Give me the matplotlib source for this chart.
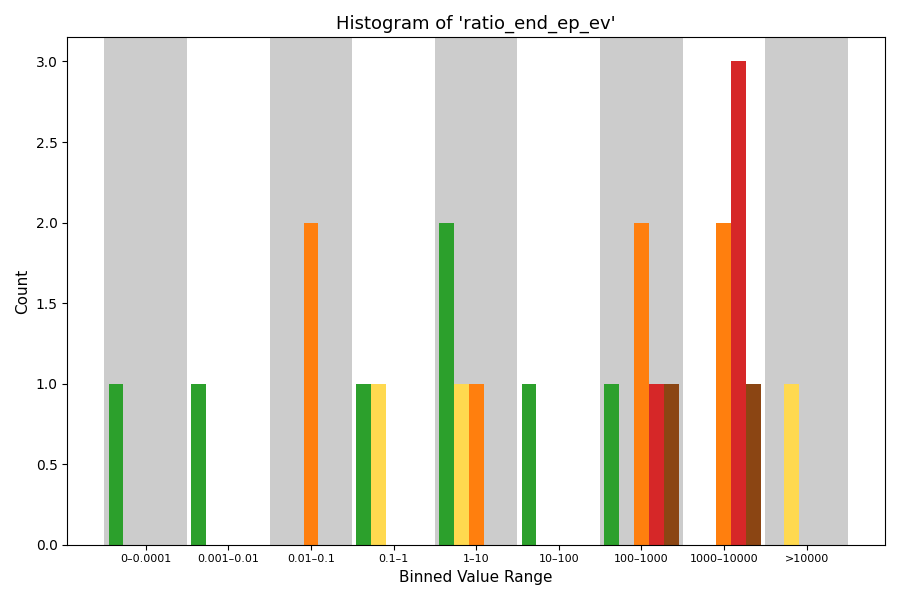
import numpy as np
import matplotlib
matplotlib.use("Agg")
import matplotlib.pyplot as plt

# ── data ──────────────────────────────────────────────────────────────────────
bins = ["0–0.0001", "0.001–0.01", "0.01–0.1", "0.1–1", "1–10",
        "10–100", "100–1000", "1000–10000", ">10000"]

green  = [1, 1, 0, 1, 2, 1, 1, 0, 0]
yellow = [0, 0, 0, 1, 1, 0, 0, 0, 1]
orange = [0, 0, 2, 0, 1, 0, 2, 2, 0]
red    = [0, 0, 0, 0, 0, 0, 1, 3, 0]
brown  = [0, 0, 0, 0, 0, 0, 1, 1, 0]

series = [green, yellow, orange, red, brown]
colors = ["#2ca02c", "#ffd94f", "#ff7f0e", "#d62728", "#8b4513"]

# ── plot ──────────────────────────────────────────────────────────────────────
fig, ax = plt.subplots(figsize=(9, 6), dpi=100)
x = np.arange(len(bins))
n = len(series)
width = 0.9 / n

for i in range(len(bins)):
    if i % 2 == 0:
        ax.axvspan(i - 0.5, i + 0.5, color="#cccccc", zorder=0, lw=0)

for k, (vals, c) in enumerate(zip(series, colors)):
    ax.bar(x + (k - (n - 1) / 2) * width, vals, width=width, color=c, zorder=2)

ax.set_xticks(x)
ax.set_xticklabels(bins, fontsize=8)
ax.set_xlabel("Binned Value Range", fontsize=11)
ax.set_ylabel("Count", fontsize=11)
ax.set_title("Histogram of 'ratio_end_ep_ev'", fontsize=13)
ax.set_ylim(0, 3.15)
ax.set_xlim(-0.95, 8.95)

fig.tight_layout()
fig.savefig("out.png", dpi=100)
plt.close(fig)
